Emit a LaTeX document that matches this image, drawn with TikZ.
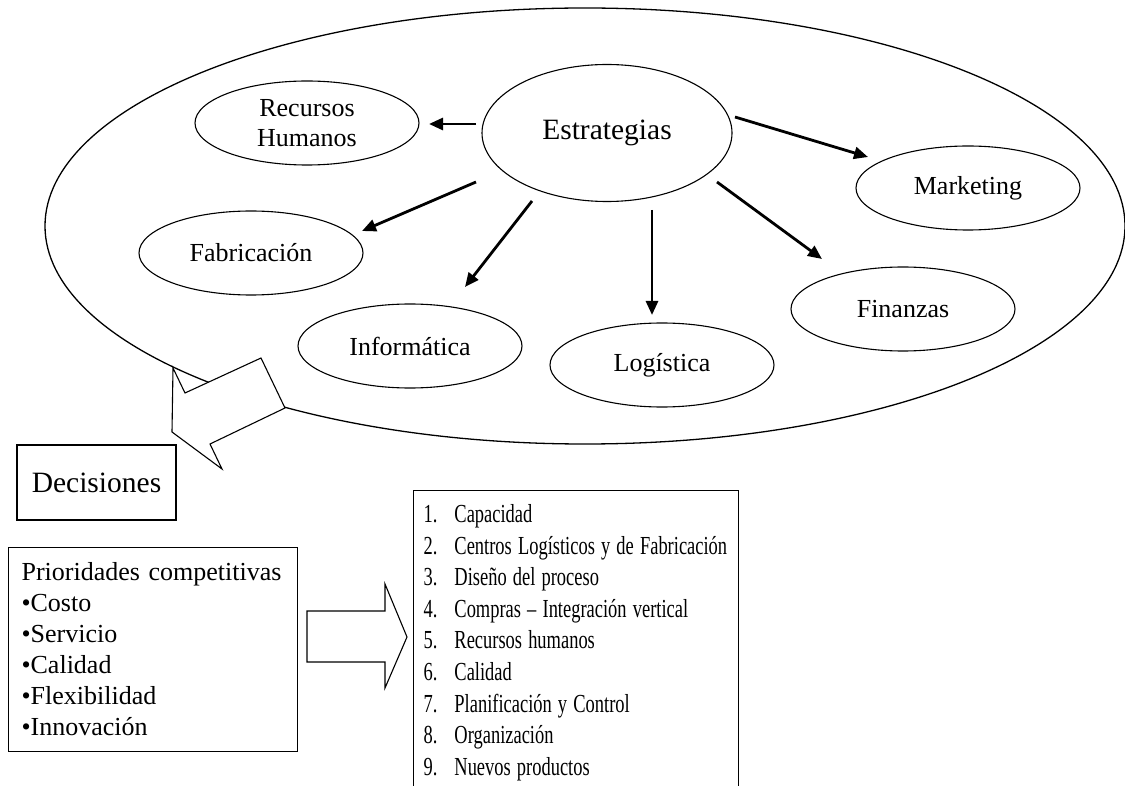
\documentclass[tikz,border=0pt]{standalone}
\usepackage{fontspec}
\usepackage{graphicx}
\setmainfont{Liberation Serif}
\usetikzlibrary{shapes.geometric,arrows.meta}
\newcommand{\listline}[2]{\scalebox{0.71}[1]{\makebox[43.5pt][l]{#1}#2}}
\begin{document}
\begin{tikzpicture}[x=1pt,y=-1pt,
  area/.style={ellipse,draw,line width=1.1pt,minimum width=224pt,minimum height=84pt,inner sep=0pt,font=\fontsize{26}{30}\selectfont,align=center},
  conn/.style={line width=2.8pt,-{Triangle[length=14pt,width=12pt]}},
  box/.style={draw,line width=1.1pt,rectangle},
  blockarrow/.style={draw,line width=1.1pt,fill=white,line join=miter}]
\useasboundingbox (0,0) rectangle (1125,786);
\clip (0,0) rectangle (1125,786);
% outer ellipse
\node[ellipse,draw,line width=1.3pt,minimum width=1080pt,minimum height=436pt,inner sep=0pt] (org) at (585,226) {};
% inner nodes
\node[ellipse,draw,line width=1.1pt,minimum width=250pt,minimum height=137pt,inner sep=0pt,font=\fontsize{29.5}{34}\selectfont] (estr) at (607,133) {Estrategias};
\node[area] (rh) at (307,123) {Recursos\\Humanos};
\node[area] (mkt) at (968,188) {Marketing};
\node[area] (fab) at (251,253) {Fabricación};
\node[area] (fin) at (903,309) {Finanzas};
\node[area] (inf) at (410,346) {Informática};
\node[area] (log) at (662,365) {Logística};
% arrow end points
\coordinate (rhS) at (476,124);  \coordinate (rhE) at (429,124);
\coordinate (mkS) at (735,117);  \coordinate (mkE) at (868,157);
\coordinate (fbS) at (476,182);  \coordinate (fbE) at (362,231);
\coordinate (ifS) at (532,201);  \coordinate (ifE) at (465,287);
\coordinate (lgS) at (652,210);  \coordinate (lgE) at (652,315);
\coordinate (fnS) at (717,182);  \coordinate (fnE) at (822,259);
\draw[conn] (rhS) -- (rhE);
\draw[conn] (mkS) -- (mkE);
\draw[conn] (fbS) -- (fbE);
\draw[conn] (ifS) -- (ifE);
\draw[conn] (lgS) -- (lgE);
\draw[conn] (fnS) -- (fnE);
% block arrow out of the ellipse
\draw[blockarrow] (173,368) -- (185,393) -- (261,358) -- (285,408) -- (210,444) -- (222,469) -- (172,432) -- cycle;
% Decisiones
\node[box,minimum width=159pt,minimum height=75pt,inner sep=0pt,font=\fontsize{29.5}{34}\selectfont] (decis) at (96.5,482.5) {Decisiones};
% priorities box
\node[box,anchor=north west,minimum width=289pt,minimum height=204pt,text width=263pt,inner xsep=13pt,inner ysep=0pt,align=left,font=\fontsize{26}{31}\selectfont] (prio) at (8,547)
  {Prioridades competitivas\\•Costo\\•Servicio\\•Calidad\\•Flexibilidad\\•Innovación};
% block arrow right
\draw[blockarrow] (307,611) -- (385,611) -- (385,584) -- (407,637) -- (385,688) -- (385,662) -- (307,662) -- cycle;
% decisions list
\node[box,anchor=north west,minimum width=325pt,minimum height=304pt,text width=305pt,inner xsep=10pt,inner ysep=0pt,align=left,font=\fontsize{26}{31.6}\selectfont] (lista) at (413,490)
  {\listline{1.}{Capacidad}\\
   \listline{2.}{Centros Logísticos y de Fabricación}\\
   \listline{3.}{Diseño del proceso}\\
   \listline{4.}{Compras – Integración vertical}\\
   \listline{5.}{Recursos humanos}\\
   \listline{6.}{Calidad}\\
   \listline{7.}{Planificación y Control}\\
   \listline{8.}{Organización}\\
   \listline{9.}{Nuevos productos}};
\end{tikzpicture}
\end{document}
